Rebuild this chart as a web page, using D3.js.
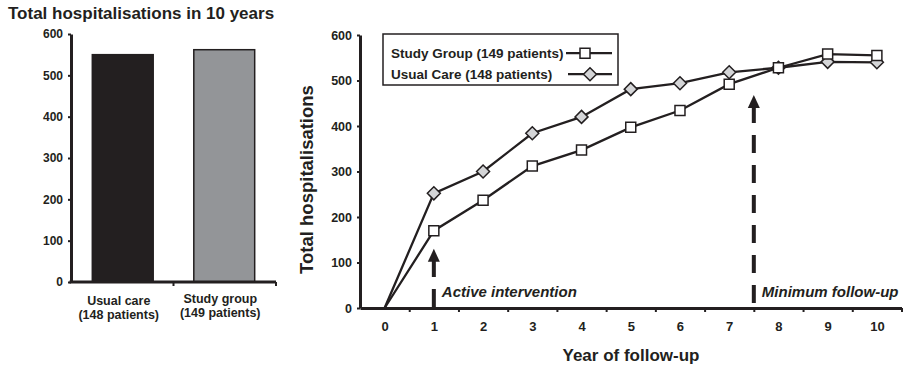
<!DOCTYPE html>
<html>
<head>
<meta charset="utf-8">
<script src="https://cdn.jsdelivr.net/npm/d3@7"></script>
<style>
  body { margin: 0; background: #fff; }
  svg { display: block; font-family: "Liberation Sans", Arial, sans-serif; font-weight: bold; }
</style>
</head>
<body>
<div id="chart"></div>
<script>
// bar chart: total hospitalisations over 10 years
const groups = ["Usual care", "Study group"];
const groupNotes = ["(148 patients)", "(149 patients)"];
const totals = [550, 562];

// line chart: cumulative hospitalisations by year of follow-up
const years = [0, 1, 2, 3, 4, 5, 6, 7, 8, 9, 10];
const studyGroup = [0, 170, 237, 312, 347, 397, 434, 492, 528, 558, 555];
const usualCare = [0, 252, 300, 384, 420, 481, 494, 518, 528, 541, 540];
const seriesNames = ["Study Group (149 patients)", "Usual Care (148 patients)"];
const yTicks = [0, 100, 200, 300, 400, 500, 600];

// arrows: year position and tip value
const notes = [
    {label: "Active intervention", year: 1, tip: 130, offset: 0},
    {label: "Minimum follow-up", year: 7.5, tip: 468, offset: 26}
];

const ink = "#231f20";
const font = '"Liberation Sans", Arial, sans-serif';
const width = 907, height = 368;

const svg = d3.select("#chart").append("svg")
    .attr("width", width)
    .attr("height", height)
    .attr("viewBox", [0, 0, width, height]);

// shared axis styling
function styleAxis(g, size) {
    g.attr("font-family", font).attr("font-weight", "bold");
    g.select(".domain").attr("stroke", ink).attr("stroke-width", 3);
    g.selectAll(".tick line").attr("stroke", ink).attr("stroke-width", 2);
    g.selectAll(".tick text").attr("fill", ink).attr("font-size", size);
}

// ---------- left: bars ----------
const yL = d3.scaleLinear().domain([0, 600]).range([282, 34]);
const xL = d3.scaleBand().domain(groups).range([71, 276])
    .paddingInner(0.4).paddingOuter(0.21);
const xLedge = d3.scaleBand().domain(groups).range([71, 276]);

svg.append("text")
    .attr("x", 8)
    .attr("y", 19)
    .attr("font-size", 17)
    .attr("fill", ink)
    .text("Total hospitalisations in 10 years");

svg.append("g")
    .selectAll("rect")
    .data(groups)
    .join("rect")
        .attr("x", d => xL(d))
        .attr("y", (d, i) => yL(totals[i]))
        .attr("width", xL.bandwidth())
        .attr("height", (d, i) => yL(0) - yL(totals[i]))
        .attr("fill", (d, i) => i === 0 ? ink : "#939598")
        .attr("stroke", ink)
        .attr("stroke-width", 1.5);

svg.append("g")
    .attr("transform", `translate(${xLedge.range()[0]},0)`)
    .call(d3.axisLeft(yL).tickValues(yTicks).tickSize(3).tickPadding(5).tickSizeOuter(0))
    .call(g => styleAxis(g, 12));

const xLaxis = svg.append("g").attr("transform", `translate(0,${yL(0)})`);
xLaxis.append("line")
    .attr("x1", xLedge.range()[0] - 1.5)
    .attr("x2", xLedge.range()[1])
    .attr("stroke", ink)
    .attr("stroke-width", 3);
xLaxis.selectAll("line.tk")
    .data(groups)
    .join("line")
        .attr("class", "tk")
        .attr("x1", d => xLedge(d) + xLedge.bandwidth())
        .attr("x2", d => xLedge(d) + xLedge.bandwidth())
        .attr("y1", 0)
        .attr("y2", 4)
        .attr("stroke", ink)
        .attr("stroke-width", 2);

const glab = svg.append("g")
    .attr("font-size", 12.5)
    .attr("fill", ink)
    .attr("text-anchor", "middle");
glab.selectAll("text.g1")
    .data(groups)
    .join("text")
        .attr("class", "g1")
        .attr("x", d => xL(d) + xL.bandwidth() / 2 - 4)
        .attr("y", (d, i) => i === 0 ? 305 : 303)
        .text(d => d);
glab.selectAll("text.g2")
    .data(groupNotes)
    .join("text")
        .attr("class", "g2")
        .attr("x", (d, i) => xL(groups[i]) + xL.bandwidth() / 2 - 4)
        .attr("y", (d, i) => i === 0 ? 319 : 317)
        .text(d => d);

// ---------- right: lines ----------
const x = d3.scaleLinear().domain([-0.5, 10.5]).range([360, 901.5]);
const y = d3.scaleLinear().domain([0, 600]).range([308, 35]);

svg.append("g")
    .attr("transform", `translate(${x(-0.5)},0)`)
    .call(d3.axisLeft(y).tickValues(yTicks).tickSize(3).tickPadding(5).tickSizeOuter(0))
    .call(g => styleAxis(g, 12.5));

svg.append("g")
    .attr("transform", `translate(0,${y(0)})`)
    .call(d3.axisBottom(x).tickValues(years.map(d => d + 0.5)).tickFormat("").tickSize(4).tickSizeOuter(0))
    .call(g => styleAxis(g, 13));

svg.append("g")
    .attr("transform", `translate(0,${y(0)})`)
    .call(d3.axisBottom(x).tickValues(years).tickSize(0).tickPadding(14))
    .call(g => g.select(".domain").remove())
    .call(g => styleAxis(g, 13));

svg.append("text")
    .attr("x", 631)
    .attr("y", 361)
    .attr("text-anchor", "middle")
    .attr("font-size", 17)
    .attr("fill", ink)
    .text("Year of follow-up");

svg.append("text")
    .attr("transform", `translate(313,${(y(0) + y(600)) / 2 + 8}) rotate(-90)`)
    .attr("text-anchor", "middle")
    .attr("font-size", 18.5)
    .attr("fill", ink)
    .text("Total hospitalisations");

// annotation arrows
const ann = svg.append("g");
notes.forEach(n => {
    const ax = x(n.year), tipY = y(n.tip);
    ann.append("line")
        .attr("x1", ax).attr("x2", ax)
        .attr("y1", y(0) - 1).attr("y2", tipY + 12)
        .attr("stroke", ink)
        .attr("stroke-width", 4)
        .attr("stroke-dasharray", "18,12")
        .attr("stroke-dashoffset", n.offset);
    ann.append("path")
        .attr("d", `M${ax},${tipY}L${ax - 6},${tipY + 13}L${ax + 6},${tipY + 13}Z`)
        .attr("fill", ink);
    ann.append("text")
        .attr("x", ax + 8)
        .attr("y", y(0) - 11)
        .attr("font-size", 15)
        .attr("font-style", "italic")
        .attr("fill", ink)
        .text(n.label);
});

const line = d3.line().x((d, i) => x(years[i])).y(d => y(d));
const square = d3.symbol(d3.symbolSquare, 100);
const diamond = "M0,-6.5L6.5,0L0,6.5L-6.5,0Z";

const series = [
    {values: studyGroup, shape: square(), fill: "#fff"},
    {values: usualCare, shape: diamond, fill: "#d4d5d7"}
];

series.slice().reverse().forEach(s => {
    svg.append("path")
        .attr("d", line(s.values))
        .attr("fill", "none")
        .attr("stroke", ink)
        .attr("stroke-width", 2.3);
});
series.slice().reverse().forEach(s => {
    svg.append("g")
        .selectAll("path")
        .data(s.values.slice(1))
        .join("path")
            .attr("transform", (d, i) => `translate(${x(years[i + 1])},${y(d)})`)
            .attr("d", s.shape)
            .attr("fill", s.fill)
            .attr("stroke", ink)
            .attr("stroke-width", 1.5);
});

// legend
const legend = svg.append("g");
legend.append("rect")
    .attr("x", 383).attr("y", 34)
    .attr("width", 235).attr("height", 51)
    .attr("fill", "#fff")
    .attr("stroke", ink)
    .attr("stroke-width", 1.5);
const rows = legend.selectAll("g")
    .data(series)
    .join("g")
        .attr("transform", (d, i) => `translate(0,${58 + i * 21})`);
rows.append("text")
    .attr("x", 391)
    .attr("font-size", 13.5)
    .attr("fill", ink)
    .text((d, i) => seriesNames[i]);
rows.append("line")
    .attr("x1", (d, i) => i === 0 ? 566 : 568)
    .attr("x2", 612)
    .attr("y1", -4.8).attr("y2", -4.8)
    .attr("stroke", ink)
    .attr("stroke-width", 2.3);
rows.append("path")
    .attr("transform", (d, i) => `translate(${i === 0 ? 585 : 590},-4.8)`)
    .attr("d", d => d.shape)
    .attr("fill", d => d.fill)
    .attr("stroke", ink)
    .attr("stroke-width", 1.5);
</script>
</body>
</html>
